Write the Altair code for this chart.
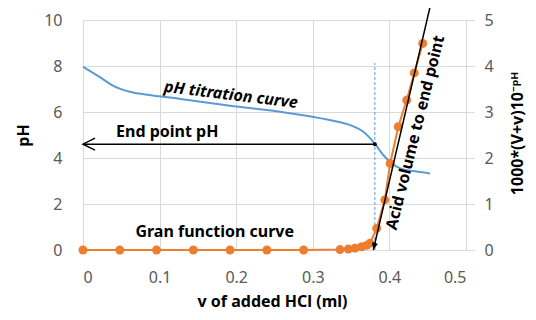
import altair as alt
import pandas as pd

FONT = "Noto Sans"
BLUE = "#5B9BD5"
ORANGE = "#ED7D31"

# pH titration curve
ph_x = [0.000, 0.022, 0.039, 0.061, 0.084, 0.127, 0.192, 0.257, 0.322, 0.349,
        0.366, 0.381, 0.392, 0.403, 0.414, 0.436, 0.453]
ph_y = [7.97, 7.52, 7.15, 6.88, 6.75, 6.57, 6.27, 6.01, 5.65, 5.43,
        5.14, 4.62, 4.13, 3.77, 3.55, 3.41, 3.33]

# Gran function
gran_x = [0.000, 0.048, 0.096, 0.144, 0.192, 0.240, 0.288, 0.3355, 0.3463, 0.355,
          0.3638, 0.3704, 0.3747, 0.3834, 0.394, 0.401, 0.4116, 0.4226, 0.4325, 0.4435]
gran_y = [0, 0, 0, 0, 0, 0, 0, 0.01, 0.02, 0.04,
          0.07, 0.10, 0.15, 0.47, 1.09, 1.88, 2.68, 3.26, 3.85, 4.49]

# annotations
end_x = 0.381
end_ph = 4.6
dash_top_ph = 8.13
acid_x = [0.379, 0.453]
acid_g = [0.0, 5.28]

x_ticks = [0, 0.1, 0.2, 0.3, 0.4, 0.5]
ph_ticks = [0, 2, 4, 6, 8, 10]
g_ticks = [0, 1, 2, 3, 4, 5]

labels = pd.DataFrame({
    "text": ["End point pH", "Gran function curve"],
    "x": [0.110, 0.172],
    "ph": [5.13, 0.80],
})
curve_label = pd.DataFrame({"text": ["pH titration curve"], "x": [0.193], "ph": [6.74]})

xscale = alt.Scale(domain=[0, 0.5], nice=False, zero=False)
phscale = alt.Scale(domain=[0, 10], nice=False)
gscale = alt.Scale(domain=[0, 5], nice=False)

ph_df = pd.DataFrame({"x": ph_x, "ph": ph_y})
gran_df = pd.DataFrame({"x": gran_x, "g": gran_y})

X_TITLE = "v of added HCl (ml)"
L_TITLE = "pH"
R_TITLE = "1000*(V+v)10⁻ᵖᴴ"

x_axis = alt.Axis(values=x_ticks, format=".1~f", title=X_TITLE,
                  grid=True, gridColor="#d9d9d9", domain=False, ticks=False,
                  labelPadding=19, labelFontSize=16, labelColor="#595959", labelFont=FONT,
                  titleFontSize=16, titleFont=FONT, titleFontWeight="bold", titleColor="black",
                  titleX=189, titleY=51, titleBaseline="middle", titleAlign="center")

left_axis = alt.Axis(values=ph_ticks, title=L_TITLE, grid=True, gridColor="#d9d9d9",
                     domain=False, ticks=False, labelPadding=21, labelFontSize=16,
                     labelColor="#595959", labelFont=FONT,
                     titleFontSize=16, titleFont=FONT, titleFontWeight="bold", titleColor="black",
                     titleX=-60, titleY=115, titleAngle=270, titleBaseline="middle",
                     titleAlign="center")

right_axis = alt.Axis(values=g_ticks, title=R_TITLE, orient="right", grid=False,
                      domain=False, ticks=True, tickSize=8, tickColor="#d9d9d9",
                      labelPadding=10, labelFontSize=16, labelColor="#595959", labelFont=FONT,
                      titleFontSize=16, titleFont=FONT, titleFontWeight="bold", titleColor="black",
                      titleX=51, titleY=113, titleAngle=270, titleBaseline="middle",
                      titleAlign="center")


def X(field="x"):
    return alt.X(f"{field}:Q", scale=xscale, axis=x_axis, title=X_TITLE)


def YL(field="ph"):
    return alt.Y(f"{field}:Q", scale=phscale, axis=left_axis, title=L_TITLE)


def YR(field="g"):
    return alt.Y(f"{field}:Q", scale=gscale, axis=right_axis, title=R_TITLE)


ph_line = alt.Chart(ph_df).mark_line(color=BLUE, strokeWidth=2, interpolate="monotone").encode(
    x=X(), y=YL(),
)

dash = alt.Chart(pd.DataFrame({"x": [end_x], "ph": [0], "ph2": [dash_top_ph]})).mark_rule(
    color=BLUE, strokeWidth=1, strokeDash=[3, 2]).encode(
    x=X(), y=YL(), y2="ph2:Q",
)

hline = alt.Chart(pd.DataFrame({"x": [end_x], "x2": [0], "ph": [end_ph]})).mark_rule(
    color="black", strokeWidth=1.5).encode(
    x=X(), x2="x2:Q", y=YL(),
)

left_head = alt.Chart(pd.DataFrame({"x": [0], "ph": [end_ph]})).mark_point(
    shape="M2,-1L0,0L2,1", filled=False, stroke="black", strokeWidth=1.5, size=144,
    opacity=1).encode(
    x=X(), y=YL(),
)

end_dot = alt.Chart(pd.DataFrame({"x": [end_x], "ph": [end_ph]})).mark_point(
    shape="circle", filled=True, color="black", size=16, opacity=1).encode(
    x=X(), y=YL(),
)

texts = alt.Chart(labels).mark_text(font=FONT, fontSize=16, fontWeight="bold",
                                    color="black").encode(
    x=X(), y=YL(), text="text:N",
)

curve_text = alt.Chart(curve_label).mark_text(font=FONT, fontSize=16, fontWeight="bold",
                                              fontStyle="italic", angle=7,
                                              color="black").encode(
    x=X(), y=YL(), text="text:N",
)

left = alt.layer(ph_line, dash, hline, left_head, end_dot, texts, curve_text)

gran_line = alt.Chart(gran_df).mark_line(color=ORANGE, strokeWidth=2).encode(
    x=X(), y=YR(),
)
gran_pts = alt.Chart(gran_df).mark_point(shape="circle", filled=True, color=ORANGE,
                                         size=80, opacity=1).encode(
    x=X(), y=YR(),
)

acid_line = alt.Chart(pd.DataFrame({"x": [acid_x[0]], "x2": [acid_x[1]],
                                    "g": [acid_g[0]], "g2": [acid_g[1]]})).mark_rule(
    color="black", strokeWidth=1.5).encode(
    x=X(), x2="x2:Q", y=YR(), y2="g2:Q",
)

acid_head = alt.Chart(pd.DataFrame({"x": [acid_x[0]], "g": [acid_g[0]]})).mark_point(
    shape="M-1,-2.4L0,0L1,-2.4Z", filled=True, color="black", size=36, angle=13,
    opacity=1).encode(
    x=X(), y=YR(),
)

acid_text = alt.Chart(pd.DataFrame({"x": [0.434], "g": [2.55],
                                    "text": ["Acid volume to end point"]})).mark_text(
    font=FONT, fontSize=16, fontWeight="bold", color="black", angle=284).encode(
    x=X(), y=YR(), text="text:N",
)

right = alt.layer(gran_line, gran_pts, acid_line, acid_head, acid_text)

chart = alt.layer(left, right).resolve_scale(y="independent").properties(
    width=383, height=230,
    background="white",
    autosize=alt.AutoSizeParams(type="none"),
    padding={"left": 75, "top": 12, "right": 62, "bottom": 62},
).configure_view(stroke=None)

chart.save("out.html", embed_options={"renderer": "svg", "actions": False})
